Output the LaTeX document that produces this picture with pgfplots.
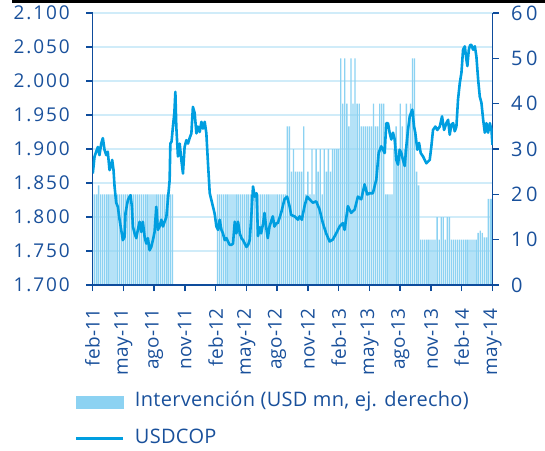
\documentclass[border=0pt]{standalone}
\usepackage{pgfplots}
\pgfplotsset{compat=1.18}
\usepackage{pgfplotstable}
\usepackage{fontspec}
\setmainfont{Open Sans}[LetterSpace=1.5]
\newfontfamily\tickfont{Open Sans}[LetterSpace=10]
\newfontfamily\rtickfont{Open Sans}[LetterSpace=18]
\definecolor{linecol}{RGB}{0,158,224}
\definecolor{barcol}{RGB}{140,210,242}
\definecolor{gridcol}{RGB}{208,236,249}
\definecolor{axcol}{RGB}{14,76,156}
\definecolor{txtcol}{RGB}{25,80,155}

\pgfplotstableread{
x y
0.03 1.864
0.20 1.889
0.52 1.903
0.68 1.891
0.85 1.908
1.01 1.916
1.17 1.899
1.34 1.891
1.49 1.896
1.66 1.869
1.83 1.876
1.92 1.884
2.05 1.869
2.15 1.845
2.31 1.821
2.47 1.815
2.64 1.796
2.80 1.781
2.96 1.766
3.13 1.771
3.22 1.806
3.45 1.825
3.61 1.830
3.71 1.832
3.84 1.815
3.94 1.786
4.10 1.776
4.27 1.769
4.42 1.781
4.59 1.793
4.76 1.778
4.91 1.793
5.08 1.771
5.24 1.761
5.40 1.769
5.57 1.751
5.73 1.756
5.89 1.766
6.05 1.778
6.22 1.815
6.38 1.781
6.54 1.786
6.71 1.796
6.87 1.786
7.03 1.793
7.20 1.800
7.35 1.825
7.52 1.854
7.59 1.908
7.71 1.911
7.84 1.933
7.98 1.953
8.08 1.984
8.17 1.933
8.33 1.889
8.50 1.908
8.66 1.884
8.82 1.864
8.98 1.903
9.15 1.913
9.31 1.908
9.47 1.916
9.64 1.923
9.79 1.962
9.96 1.953
10.13 1.923
10.28 1.933
10.45 1.925
10.62 1.940
10.77 1.930
10.94 1.940
11.10 1.923
11.26 1.879
11.43 1.835
11.59 1.825
11.75 1.815
11.91 1.805
12.08 1.786
12.24 1.781
12.40 1.796
12.57 1.781
12.72 1.776
12.89 1.766
13.06 1.769
13.21 1.764
13.38 1.759
13.54 1.759
13.70 1.761
13.87 1.793
14.03 1.776
14.19 1.793
14.36 1.776
14.52 1.769
14.68 1.766
14.84 1.761
15.01 1.756
15.17 1.759
15.33 1.766
15.50 1.805
15.65 1.845
15.82 1.830
15.99 1.835
16.14 1.772
16.31 1.785
16.44 1.776
16.63 1.790
16.77 1.806
16.92 1.786
17.09 1.769
17.26 1.786
17.45 1.795
17.58 1.801
17.74 1.786
17.94 1.791
18.07 1.791
18.39 1.806
18.72 1.826
18.97 1.830
19.21 1.816
19.37 1.803
19.70 1.801
20.02 1.796
20.19 1.801
20.41 1.796
20.67 1.816
20.93 1.830
21.16 1.826
21.48 1.821
21.81 1.823
22.14 1.811
22.46 1.791
22.78 1.776
23.12 1.764
23.44 1.767
23.76 1.776
24.09 1.786
24.41 1.791
24.58 1.781
24.90 1.816
25.22 1.806
25.56 1.811
25.88 1.830
26.20 1.826
26.53 1.848
26.79 1.833
27.02 1.835
27.34 1.835
27.67 1.855
27.90 1.894
28.15 1.904
28.32 1.899
28.49 1.894
28.64 1.938
28.81 1.938
28.97 1.924
29.13 1.914
29.30 1.924
29.46 1.914
29.62 1.884
29.79 1.877
29.95 1.899
30.11 1.894
30.27 1.884
30.44 1.875
30.60 1.904
30.76 1.928
30.93 1.948
31.18 1.958
31.35 1.933
31.47 1.924
31.67 1.899
31.84 1.909
32.00 1.894
32.23 1.889
32.55 1.879
32.88 1.884
33.04 1.904
33.20 1.928
33.43 1.933
33.62 1.928
33.86 1.933
34.08 1.948
34.28 1.928
34.50 1.938
34.67 1.943
34.83 1.921
34.99 1.936
35.16 1.938
35.32 1.926
35.48 1.933
35.64 1.973
35.81 1.997
35.97 2.012
36.13 2.046
36.30 2.051
36.46 2.031
36.55 2.022
36.69 2.046
36.82 2.053
36.94 2.053
37.11 2.046
37.28 2.051
37.43 2.036
37.60 2.002
37.76 1.977
37.92 1.968
38.09 1.943
38.25 1.924
38.41 1.938
38.57 1.924
38.74 1.938
38.90 1.928
39.00 1.906
}\usdcop

\pgfplotstableread{
x y
0.0 20
0.2 20
0.4 20
0.6 22
0.8 20
1.0 20
1.2 20
1.4 20
1.6 20
1.8 20
2.0 20
2.2 20
2.4 20
2.6 20
2.8 20
3.0 20
3.2 20
3.4 20
3.6 20
3.8 20
4.0 20
4.2 20
4.4 20
4.6 20
4.8 20
5.0 20
5.2 20
5.4 20
5.6 20
5.8 20
6.0 20
6.2 20
6.4 20
6.6 20
6.8 20
7.0 20
7.2 20
7.4 20
7.6 20
7.8 20
12.2 20
12.4 20
12.6 20
12.8 20
13.0 20
13.2 20
13.4 20
13.6 20
13.8 20
14.0 20
14.2 20
14.4 20
14.6 20
14.8 20
15.0 20
15.2 20
15.4 20
15.6 20
15.8 20
16.0 20
16.2 20
16.4 20
16.6 20
16.8 20
17.0 20
17.2 20
17.4 20
17.6 20
17.8 20
18.0 20
18.2 20
18.4 20
18.6 20
18.8 20
19.0 35
19.2 35
19.4 25
19.6 30
19.8 25
20.0 25
20.2 25
20.4 25
20.6 35
20.8 20
21.0 25
21.2 20
21.4 30
21.6 20
21.8 30
22.0 25
22.2 30
22.4 20
22.6 30
22.8 25
23.0 30
23.2 25
23.4 30
23.6 30
23.8 30
24.0 30
24.2 50
24.4 40
24.6 50
24.8 40
25.0 35
25.2 50
25.4 40
25.6 50
25.8 40
26.0 40
26.2 35
26.4 35
26.6 35
26.8 35
27.0 35
27.2 35
27.4 40
27.6 35
27.8 35
28.0 40
28.2 40
28.4 40
28.6 20
28.8 20
29.0 20
29.2 20
29.4 30
29.6 35
29.8 30
30.0 40
30.2 35
30.4 30
30.6 40
30.8 35
31.0 40
31.2 50
31.4 50
31.6 25
31.8 22
32.0 10
32.2 10
32.4 10
32.6 10
32.8 10
33.0 10
33.2 10
33.4 10
33.6 15
33.8 10
34.0 15
34.2 15
34.4 10
34.6 15
34.8 15
35.0 10
35.2 10
35.4 10
35.6 10
35.8 10
36.0 10
36.2 10
36.4 10
36.6 10
36.8 10
37.0 10
37.2 10
37.4 10
37.6 11.5
37.8 12
38.0 11.5
38.2 10.5
38.4 10.5
38.6 19
38.8 19
38.95 19
}\interv

\begin{document}
\begin{tikzpicture}
\useasboundingbox (-92.5pt,-165pt) rectangle (452.5pt,285pt);
\fill[black] (-80pt,282.3pt) rectangle (452.5pt,285pt);
\pgfplotsset{
  base/.style={
    at={(0pt,0pt)}, anchor=south west,
    scale only axis, width=400pt, height=272pt,
    xmin=0, xmax=39,
    axis line style={draw=axcol, line width=1.8pt},
    tick style={draw=axcol, line width=1.5pt},
    major tick length=6pt, tick align=outside,
    ticklabel style={font=\tickfont\fontsize{19}{19}\selectfont, text=txtcol, inner sep=0pt},
  }
}
% grid
\begin{axis}[base,
  ymin=1.7, ymax=2.1,
  ytick={1.7,1.75,1.8,1.85,1.9,1.95,2.0,2.05,2.1},
  yticklabels={}, xtick=\empty,
  ymajorgrids, grid style={draw=gridcol, line width=1.3pt},
  axis line style={draw=none}, ytick style={draw=none}]
\end{axis}
% bars, right axis
\begin{axis}[base,
  axis on top,
  ymin=0, ymax=60,
  axis y line*=right, axis x line*=bottom,
  ytick={0,10,20,30,40,50,60},
  yticklabels={0,10,20,30,40,50,60},
  yticklabel style={font=\rtickfont\fontsize{20}{20}\selectfont},
  yticklabel shift=12.5pt,
  xtick={0,3,...,39},
  xticklabels={feb-11,may-11,ago-11,nov-11,feb-12,may-12,ago-12,nov-12,feb-13,may-13,ago-13,nov-13,feb-14,may-14},
  xticklabel style={rotate=90, anchor=east, font=\fontsize{19}{19}\selectfont},
  xticklabel shift=17pt]
\addplot[ybar, bar width=0.13, fill=barcol, draw=none] table {\interv};
\end{axis}
% line, left axis
\begin{axis}[base,
  ymin=1.7, ymax=2.1,
  axis y line*=left, axis x line=none,
  ytick={1.7,1.75,1.8,1.85,1.9,1.95,2.0,2.05,2.1},
  yticklabels={1.700,1.750,1.800,1.850,1.900,1.950,2.000,2.050,2.100},
  yticklabel shift=16.5pt,
  legend style={at={(axis description cs:-0.044,-0.392)}, anchor=north west,
    draw=none, fill=none, inner sep=0pt, row sep=16.7pt,
    font=\fontsize{20}{20}\selectfont, text=txtcol,
    nodes={inner sep=0pt, anchor=west, text height=15pt, text depth=5pt},
    /tikz/every odd column/.append style={column sep=10.5pt}},
  legend cell align=left]
\addlegendimage{legend image code/.code={\fill[barcol] (0pt,-6pt) rectangle (47pt,6pt);}}
\addlegendentry{Intervención (USD mn, ej. derecho)}
\addplot[linecol, line width=2.6pt, line join=round,
  legend image code/.code={\draw[linecol, line width=2.4pt] (0pt,0pt) -- (47pt,0pt);}]
  table {\usdcop};
\addlegendentry{USDCOP}
\end{axis}
\end{tikzpicture}
\end{document}
